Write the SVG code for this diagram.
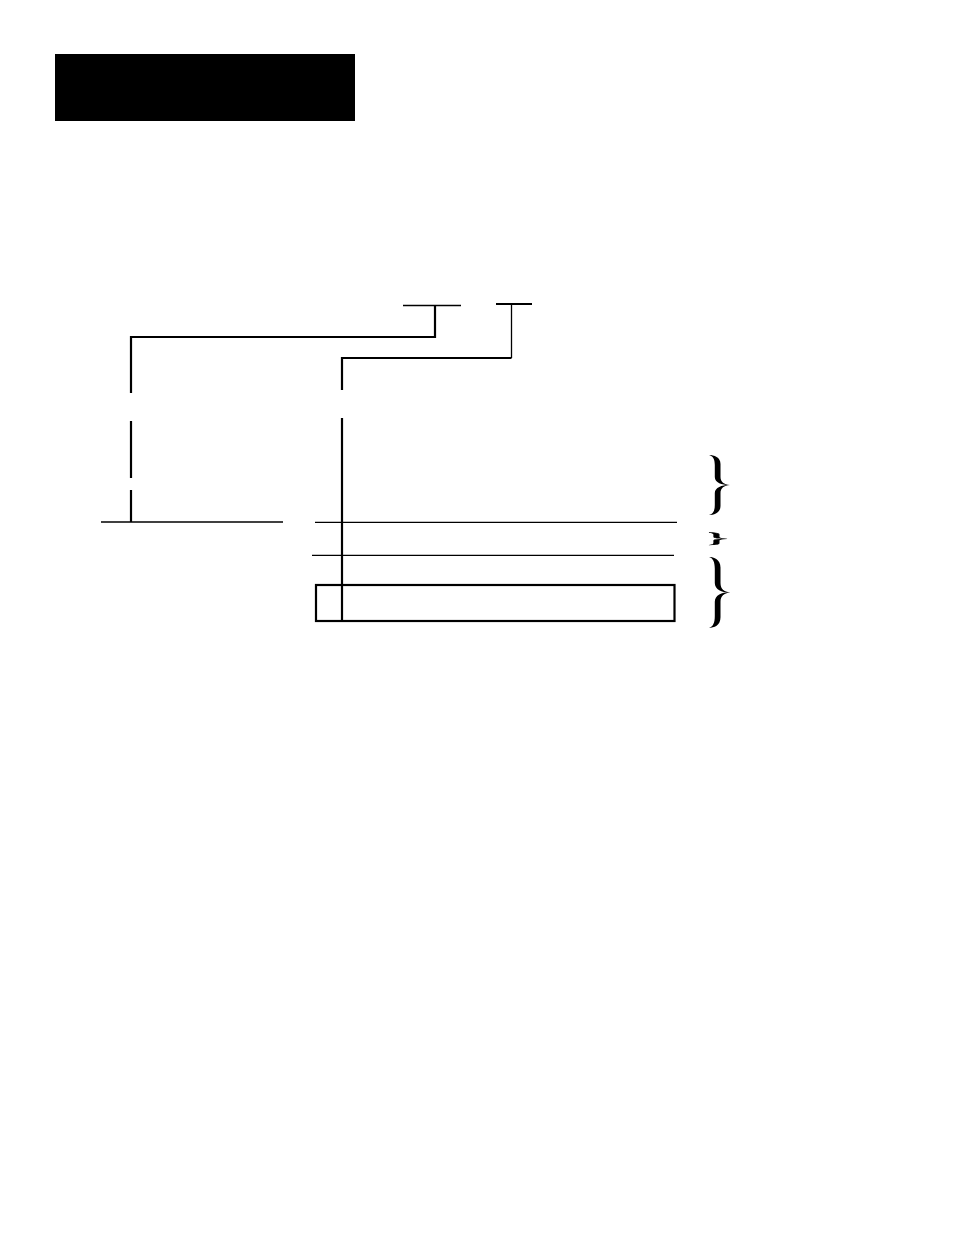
<svg xmlns="http://www.w3.org/2000/svg" width="954" height="1235" viewBox="0 0 954 1235">
<style>
.thick{stroke:#000;stroke-width:2.2;fill:none}
.thin{stroke:#000;stroke-width:1.3;fill:none}
.brace{fill:#000;stroke:none}
.brace-small{fill:#000;stroke:#000;stroke-width:1.4;vector-effect:non-scaling-stroke}
</style>
<defs>
<path id="rbrace" d="M0,0 C5,0 11.5,2 11.5,9 L11.5,22 C11.5,27 15,29.5 21,30 C14,30.3 5.8,28 5.8,22 L5.8,10 C5.8,4 4,1 0,0 Z M21,30 C15,30.5 11.5,33 11.5,38 L11.5,51 C11.5,58 5,60 0,60 C4,59 5.8,56 5.8,50 L5.8,38 C5.8,32 14,29.7 21,30 Z"/>
</defs>
<rect width="954" height="1235" fill="#fff"/>
<g id="header"><rect x="55" y="54" width="300" height="67" fill="#000"/></g>
<g id="connectors">
<line class="thin" x1="403" y1="305.5" x2="461" y2="305.5"/>
<line class="thick" x1="496" y1="304" x2="532" y2="304"/>
<polyline class="thick" points="435,305 435,337 131,337 131,393"/>
<line class="thick" x1="131" y1="421" x2="131" y2="478"/>
<line class="thick" x1="131" y1="490" x2="131" y2="522"/>
<polyline class="thin" points="511.5,304 511.5,358"/>
<polyline class="thick" points="511.5,358 342,358 342,390"/>
<line class="thick" x1="342" y1="418" x2="342" y2="621"/>
<line class="thin" x1="101" y1="522" x2="283" y2="522"/>
<line class="thin" x1="315" y1="522.3" x2="677" y2="522.3"/>
<line class="thin" x1="312" y1="555.3" x2="674" y2="555.3"/>
</g>
<g id="box"><rect class="thick" x="316" y="585" width="358.5" height="36"/></g>
<g id="braces">
<use href="#rbrace" class="brace" transform="translate(709,455)"/>
<use href="#rbrace" class="brace-small" transform="translate(709,532.5) scale(0.86,0.21)"/>
<use href="#rbrace" class="brace" transform="translate(709,557) scale(1,1.18)"/>
</g>
</svg>
